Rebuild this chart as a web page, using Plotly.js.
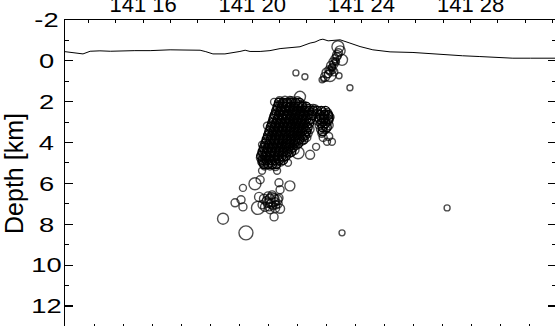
<!DOCTYPE html>
<html><head><meta charset="utf-8">
<script src="https://cdn.plot.ly/plotly-3.0.1.min.js"></script>
<style>
html,body{margin:0;padding:0;width:555px;height:326px;overflow:hidden;background:#fff}
#wrap{position:absolute;left:0;top:-40px}
</style></head>
<body><div id="wrap"><div id="plot" style="width:600px;height:400px"></div></div>
<script>
// Longitude in arc-minutes past 141 deg; depth in km
var topoLon = [13.14,13.44,13.80,14.06,14.42,14.80,15.16,15.70,16.26,16.60,16.99,17.50,18.09,18.30,18.56,19.00,19.30,19.55,19.74,19.92,20.29,20.65,21.02,21.38,21.75,22.12,22.30,22.48,22.59,22.78,23.00,23.22,23.58,23.95,24.42,25.05,25.89,26.50,27.14,27.70,28.34,29.00,29.55,30.20,31.13];
var topoDepth = [-0.45,-0.39,-0.34,-0.47,-0.49,-0.47,-0.49,-0.50,-0.50,-0.52,-0.54,-0.53,-0.52,-0.45,-0.34,-0.34,-0.39,-0.46,-0.52,-0.46,-0.46,-0.50,-0.60,-0.64,-0.69,-0.87,-0.92,-1.03,-1.06,-0.98,-1.02,-1.03,-0.87,-0.70,-0.54,-0.44,-0.41,-0.35,-0.29,-0.25,-0.21,-0.16,-0.13,-0.13,-0.13];

var topTickVals = [16,20,24,28];
var topTickText = ['141 16','141 20','141 24','141 28'];
var depthTickVals = [-2,0,2,4,6,8,10,12];
var depthTickText = ['-2','0','2','4','6','8','10','12'];

// shallow events near the summit
var shallowLon = [23.14,23.22,23.11,23.29,23.03,22.96,23.07,22.89,22.92,22.81,22.99,22.74,22.85,22.67,22.56,23.18,22.62,21.60,21.93,23.58,
23.00,22.93,22.85,22.78,23.10,23.05,22.95,23.16];
var shallowDepth = [-0.69,-0.49,-0.29,-0.05,-0.10,0.05,0.05,0.24,0.34,0.44,0.54,0.59,0.72,0.78,0.93,0.73,0.88,0.59,0.78,1.32,
0.15,0.30,0.50,0.65,-0.20,0.00,0.45,-0.40];
var shallowSize = [12,10,9,11,8,8,7,9,7,8,8,10,12,9,6,6,6,6,6,6,
8,7,8,7,8,7,7,8];

// main dense cluster 2-5 km
var mainLon = [
21.0,21.2,21.45,21.65,
20.95,21.1,21.3,21.5,21.7,21.85,
20.9,21.05,21.2,21.4,21.55,21.75,21.9,22.1,22.3,
20.85,21.0,21.15,21.35,21.5,21.7,21.85,22.0,22.2,22.4,22.6,22.75,
20.8,20.95,21.1,21.3,21.45,21.6,21.8,21.95,22.35,22.55,22.7,22.85,
20.75,20.9,21.05,21.25,21.4,21.6,21.75,21.9,22.05,22.4,22.6,22.8,
20.7,20.85,21.0,21.2,21.35,21.55,21.7,21.85,22.0,22.45,22.65,22.8,
20.65,20.8,20.95,21.15,21.3,21.5,21.65,21.8,21.95,22.1,22.5,22.7,
20.6,20.75,20.9,21.1,21.25,21.45,21.6,21.75,21.9,22.05,22.55,
20.55,20.7,20.85,21.05,21.2,21.4,21.55,21.7,21.85,22.0,
20.5,20.65,20.8,21.0,21.15,21.35,21.5,21.65,21.8,
20.45,20.6,20.75,20.95,21.1,21.3,21.45,21.6,
20.4,20.55,20.7,20.9,21.05,21.25,21.4,21.55,
20.35,20.5,20.65,20.85,21.0,21.2,21.35,
20.3,20.45,20.6,20.8,20.95,21.15,
20.35,20.5,20.7,20.9,21.05,
20.45,20.65,20.85,
20.80,21.13,21.38,21.75,22.01,22.23,20.54,20.76,22.74,22.92,22.34,22.12,20.36,20.40,20.36,20.36,20.91,21.31,21.68,22.74,22.60,22.80];
var mainDepth = [
1.95,1.95,1.95,1.95,
2.15,2.15,2.15,2.15,2.15,2.15,
2.35,2.35,2.35,2.35,2.35,2.35,2.35,2.35,2.35,
2.55,2.55,2.55,2.55,2.55,2.55,2.55,2.55,2.55,2.55,2.55,2.55,
2.75,2.75,2.75,2.75,2.75,2.75,2.75,2.75,2.75,2.75,2.75,2.75,
2.95,2.95,2.95,2.95,2.95,2.95,2.95,2.95,2.95,2.95,2.95,2.95,
3.15,3.15,3.15,3.15,3.15,3.15,3.15,3.15,3.15,3.15,3.15,3.15,
3.35,3.35,3.35,3.35,3.35,3.35,3.35,3.35,3.35,3.35,3.35,3.35,
3.55,3.55,3.55,3.55,3.55,3.55,3.55,3.55,3.55,3.55,3.55,
3.75,3.75,3.75,3.75,3.75,3.75,3.75,3.75,3.75,3.75,
3.95,3.95,3.95,3.95,3.95,3.95,3.95,3.95,3.95,
4.15,4.15,4.15,4.15,4.15,4.15,4.15,4.15,
4.35,4.35,4.35,4.35,4.35,4.35,4.35,4.35,
4.55,4.55,4.55,4.55,4.55,4.55,4.55,
4.75,4.75,4.75,4.75,4.75,4.75,
4.95,4.95,4.95,4.95,4.95,
5.15,5.15,5.15,
2.01,2.06,1.91,1.76,2.30,2.30,3.18,3.43,3.96,3.96,4.21,4.60,4.11,4.60,4.99,5.38,5.38,4.99,4.50,2.79,3.75,3.70];
var mainSize = [
8,9,8,8,
8,8,10,8,9,8,
8,9,8,8,10,8,8,9,8,
8,8,9,8,8,10,8,8,9,8,10,9,
9,8,8,10,8,8,9,8,8,9,8,8,
8,8,9,8,8,9,10,8,8,8,9,8,
8,9,8,8,10,8,8,9,8,8,8,9,
8,8,8,9,8,8,10,8,8,9,8,8,
8,8,9,8,8,9,8,8,10,8,8,
8,9,8,8,9,8,8,10,8,8,
8,8,8,10,8,8,9,8,8,
8,9,8,8,8,10,8,8,
8,8,9,8,10,8,8,9,
8,8,8,9,8,8,8,
8,9,8,8,10,8,
8,8,9,8,8,
8,8,9,
7,7,7,11,7,7,7,7,7,7,7,9,7,7,7,7,7,7,12,13,8,8];

// further events inside the dense cluster
var coreLon = [
20.98,21.13,21.28,21.43,21.58,21.73,
20.93,21.08,21.23,21.38,21.53,21.68,21.83,21.98,
20.88,21.03,21.18,21.33,21.48,21.63,21.78,21.93,22.08,22.23,22.38,22.53,22.68,
20.83,20.98,21.13,21.28,21.43,21.58,21.73,21.88,22.03,22.18,22.48,22.63,22.78,
20.78,20.93,21.08,21.23,21.38,21.53,21.68,21.83,21.98,22.13,22.48,22.63,22.78,
20.73,20.88,21.03,21.18,21.33,21.48,21.63,21.78,21.93,22.08,22.53,22.68,
20.68,20.83,20.98,21.13,21.28,21.43,21.58,21.73,21.88,22.03,22.58,22.73,
20.63,20.78,20.93,21.08,21.23,21.38,21.53,21.68,21.83,21.98,22.58,
20.58,20.73,20.88,21.03,21.18,21.33,21.48,21.63,21.78,21.93,
20.53,20.68,20.83,20.98,21.13,21.28,21.43,21.58,21.73,21.88,
20.48,20.63,20.78,20.93,21.08,21.23,21.38,21.53,21.68,
20.43,20.58,20.73,20.88,21.03,21.18,21.33,21.48,
20.38,20.53,20.68,20.83,20.98,21.13,21.28,21.43,
20.33,20.48,20.63,20.78,20.93,21.08,21.23,
20.38,20.53,20.68,20.83,20.98,21.13,
20.43,20.58,20.73,20.88];
var coreDepth = [
2.05,2.05,2.05,2.05,2.05,2.05,
2.25,2.25,2.25,2.25,2.25,2.25,2.25,2.25,
2.45,2.45,2.45,2.45,2.45,2.45,2.45,2.45,2.45,2.45,2.45,2.45,2.45,
2.65,2.65,2.65,2.65,2.65,2.65,2.65,2.65,2.65,2.65,2.65,2.65,2.65,
2.85,2.85,2.85,2.85,2.85,2.85,2.85,2.85,2.85,2.85,2.85,2.85,2.85,
3.05,3.05,3.05,3.05,3.05,3.05,3.05,3.05,3.05,3.05,3.05,3.05,
3.25,3.25,3.25,3.25,3.25,3.25,3.25,3.25,3.25,3.25,3.25,3.25,
3.45,3.45,3.45,3.45,3.45,3.45,3.45,3.45,3.45,3.45,3.45,
3.65,3.65,3.65,3.65,3.65,3.65,3.65,3.65,3.65,3.65,
3.85,3.85,3.85,3.85,3.85,3.85,3.85,3.85,3.85,3.85,
4.05,4.05,4.05,4.05,4.05,4.05,4.05,4.05,4.05,
4.25,4.25,4.25,4.25,4.25,4.25,4.25,4.25,
4.45,4.45,4.45,4.45,4.45,4.45,4.45,4.45,
4.65,4.65,4.65,4.65,4.65,4.65,4.65,
4.85,4.85,4.85,4.85,4.85,4.85,
5.05,5.05,5.05,5.05];

// deeper cluster 6-8.5 km
var deepLon = [19.66,20.10,20.29,20.98,21.38,21.02,20.73,20.25,20.73,20.91,20.58,20.87,20.65,19.37,19.59,19.66,20.21,20.47,20.84,21.02,20.80,18.93,19.77,
20.58,20.65,20.80,20.51,20.69,20.84,20.62,20.76,20.95,20.43,20.36,20.98];
var deepDepth = [6.22,6.02,5.82,5.97,6.12,6.31,6.56,6.66,6.80,6.80,6.95,7.05,7.29,6.95,6.80,7.15,7.20,7.15,7.20,7.24,7.64,7.73,8.42,
6.61,6.75,6.71,6.85,7.00,6.90,7.15,7.10,7.00,6.75,7.05,6.71];
var deepSize = [7,12,8,8,10,8,8,9,14,10,9,8,8,8,8,8,13,9,9,9,8,11,14,
8,9,8,8,9,8,8,8,8,9,8,8];

// isolated events
var isoLon = [23.29,27.14];
var isoDepth = [8.42,7.20];
var isoSize = [6,6];

function ev(x,y,s){return {type:'scatter',mode:'markers',x:x,y:y,xaxis:'x',yaxis:'y',hoverinfo:'skip',
  marker:{symbol:'circle-open',size:s,color:'#000',line:{color:'#000',width:1.4}}};}

var traces = [
  {type:'scatter',mode:'lines',x:topoLon,y:topoDepth,line:{color:'#000',width:1},hoverinfo:'skip'},
  ev(shallowLon,shallowDepth,shallowSize),
  ev(coreLon,coreDepth,9),
  ev(mainLon,mainDepth,mainSize),
  ev(deepLon,deepDepth,deepSize),
  ev(isoLon,isoDepth,isoSize),
  {type:'scatter',mode:'markers',x:[],y:[],xaxis:'x2',yaxis:'y',hoverinfo:'skip'}
];

var fnt = 'Liberation Sans, Arial, sans-serif';
var layout = {
  width:600,height:400,
  margin:{l:65,r:44,t:60,b:33},
  paper_bgcolor:'#fff',plot_bgcolor:'#fff',
  showlegend:false,
  font:{family:fnt,color:'#000'},
  xaxis:{side:'top',range:[13.14,31.13],tickmode:'array',tickvals:topTickVals,ticktext:topTickText,
    ticks:'inside',ticklen:3,tickwidth:1,tickcolor:'#000',ticklabelstandoff:-2,
    minor:{dtick:1,tick0:16,ticks:'inside',ticklen:3,tickwidth:1,tickcolor:'#000'},
    showline:true,linecolor:'#000',linewidth:1.2,showgrid:false,zeroline:false,
    tickfont:{size:22,family:fnt}},
  xaxis2:{overlaying:'x',side:'bottom',anchor:'y',range:[0,16.93],tickmode:'linear',tick0:0,dtick:1,
    ticks:'inside',ticklen:3,tickwidth:1,tickcolor:'#000',showticklabels:false,
    showline:true,linecolor:'#000',linewidth:1.2,showgrid:false,zeroline:false},
  yaxis:{range:[13.03,-2],tickmode:'array',tickvals:depthTickVals,ticktext:depthTickText,
    ticks:'inside',ticklen:8,tickwidth:1.2,tickcolor:'#000',
    minor:{dtick:1,tick0:0,ticks:'inside',ticklen:4,tickwidth:1,tickcolor:'#000'},
    showline:true,mirror:'ticks',linecolor:'#000',linewidth:1.2,showgrid:false,zeroline:false,
    tickfont:{size:21,family:fnt},ticklabelstandoff:4,
    title:{text:'Depth [km]',font:{size:25,family:fnt},standoff:2}}
};
Plotly.newPlot('plot',traces,layout,{displayModeBar:false,staticPlot:true}).then(function(gd){
  // depth labels: wide glyphs, centred in a column like the reference
  gd.querySelectorAll('.ytick text').forEach(function(t){
    var L = t.getComputedTextLength();
    if(L>0){
      t.setAttribute('textLength',(L*1.3).toFixed(1));
      t.setAttribute('lengthAdjust','spacingAndGlyphs');
      var r = t.getBoundingClientRect();
      var shift = 46.5 - (r.left + r.right)/2;
      t.setAttribute('x', (parseFloat(t.getAttribute('x')||0) + shift).toFixed(1));
    }
  });
});
</script></body></html>
